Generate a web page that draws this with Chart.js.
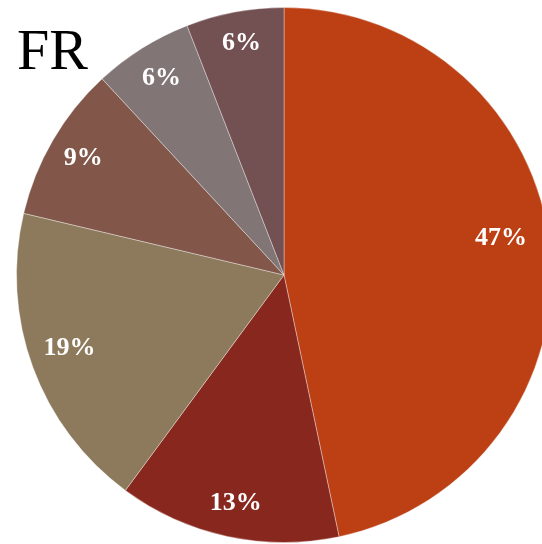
<!DOCTYPE html>
<html>
<head>
<meta charset="utf-8">
<script src="https://cdn.jsdelivr.net/npm/chart.js@4/dist/chart.umd.min.js"></script>
<style>
  html, body { margin: 0; padding: 0; background: #ffffff; overflow: hidden; width: 542px; height: 544px; }
  #wrap { position: absolute; left: 0; top: 0; width: 570px; height: 550px; }
  #title { position: absolute; left: 17px; top: 21px; font-family: "Liberation Serif", "Times New Roman", serif; font-size: 58px; color: #000; line-height: 1; }
</style>
</head>
<body>
<div id="wrap"><canvas id="c" width="570" height="550"></canvas></div>
<div id="title">FR</div>
<script>
const title = "FR";
const categories = ["A", "B", "C", "D", "E", "F"];
const values = [46.7, 13.4, 18.6, 9.4, 6.0, 5.9];
const valueLabels = ["47%", "13%", "19%", "9%", "6%", "6%"];

const colors = ["#BD4014", "#88271E", "#8D7A5C", "#82574A", "#817575", "#735052"];
const labelRadius = [0.82, 0.87, 0.85, 0.873, 0.87, 0.884];
const labelAngleShift = [-4, 0, 1.5, 0, 0, 0];

document.getElementById('title').textContent = title;

const labelPlugin = {
  id: 'sliceLabels',
  afterDatasetsDraw(chart) {
    const ctx = chart.ctx;
    const meta = chart.getDatasetMeta(0);
    ctx.save();
    ctx.fillStyle = '#ffffff';
    ctx.font = 'bold 26px "Liberation Serif", "Times New Roman", serif';
    ctx.textAlign = 'center';
    ctx.textBaseline = 'middle';
    meta.data.forEach((arc, i) => {
      const p = arc.getProps(['x', 'y', 'startAngle', 'endAngle', 'outerRadius'], true);
      const mid = (p.startAngle + p.endAngle) / 2 + labelAngleShift[i] * Math.PI / 180;
      const r = p.outerRadius * labelRadius[i];
      ctx.fillText(valueLabels[i], p.x + Math.cos(mid) * r + 1, p.y + Math.sin(mid) * r + 1);
    });
    ctx.restore();
  }
};

new Chart(document.getElementById('c'), {
  type: 'pie',
  data: {
    labels: categories,
    datasets: [{
      data: values,
      backgroundColor: colors,
      borderColor: 'rgba(255,255,255,0.35)',
      borderWidth: 1
    }]
  },
  options: {
    responsive: false,
    animation: false,
    layout: { padding: { left: 6, right: 8, top: 7, bottom: 7 } },
    plugins: {
      legend: { display: false },
      tooltip: { enabled: false },
      title: { display: false }
    }
  },
  plugins: [labelPlugin]
});
</script>
</body>
</html>
